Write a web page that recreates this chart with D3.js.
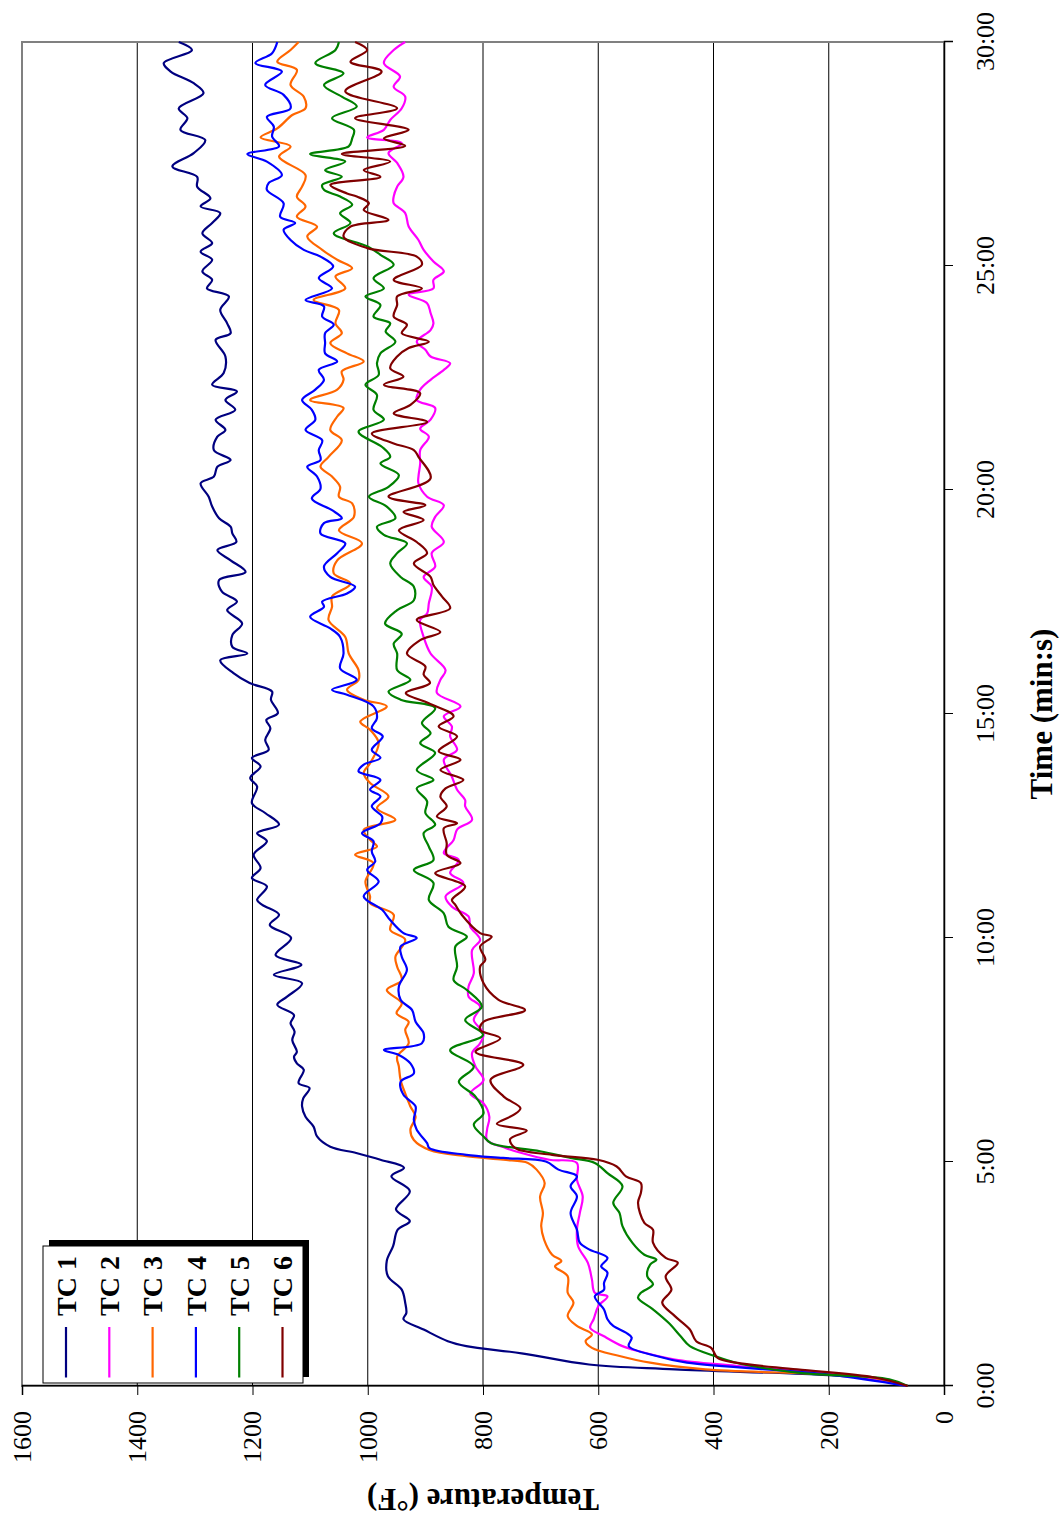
<!DOCTYPE html>
<html>
<head>
<meta charset="utf-8">
<script src="https://cdn.jsdelivr.net/npm/d3@7"></script>
<style>
  body { margin: 0; background: #fff; }
  text { font-family: "Liberation Serif", "Times New Roman", serif; }
</style>
</head>
<body>
<svg id="chart" width="1061" height="1520"></svg>
<script>
// readings taken off the plot: [minutes, deg F]
const seriesNames = ["TC 1", "TC 2", "TC 3", "TC 4", "TC 5", "TC 6"];
const seriesColors = ["#000080", "#ff00ff", "#ff6600", "#0000ff", "#008000", "#800000"];
const timeTicks = [0, 5, 10, 15, 20, 25, 30];
const tempTicks = [0, 200, 400, 600, 800, 1000, 1200, 1400, 1600];
const gridTemps = [200, 400, 600, 800, 1000, 1200, 1400];

const tc1 = [[0,63],[0.19,148],[0.37,467],[0.48,616],[0.73,733],[0.89,829],[1.0,861],[1.26,903],[1.49,938],[1.63,933],[1.86,935],[2.15,941],[2.45,965],[2.79,967],[3.12,956],[3.49,948],[3.68,927],[3.94,951],[4.35,927],[4.68,959],[4.87,937],[5.05,978],[5.2,1020],[5.34,1065],[5.57,1088],[5.79,1094],[6.01,1108],[6.24,1114],[6.42,1112],[6.65,1101],[6.76,1120],[7.06,1111],[7.2,1123],[7.35,1128],[7.46,1123],[7.72,1131],[7.91,1127],[8.1,1134],[8.28,1128],[8.51,1157],[8.69,1140],[8.99,1114],[9.18,1163],[9.4,1115],[9.62,1160],[10.0,1133],[10.29,1170],[10.52,1154],[10.74,1183],[10.85,1192],[11.15,1175],[11.34,1201],[11.56,1186],[11.86,1198],[12.16,1175],[12.34,1192],[12.53,1154],[12.79,1178],[13.01,1201],[13.38,1192],[13.57,1204],[13.83,1186],[14.02,1201],[14.2,1172],[14.42,1178],[14.68,1169],[14.87,1176],[15.02,1156],[15.32,1168],[15.5,1166],[15.69,1205],[15.91,1233],[16.2,1256],[16.35,1209],[16.5,1235],[16.76,1235],[17.02,1218],[17.32,1244],[17.51,1227],[17.73,1253],[17.99,1258],[18.17,1212],[18.43,1238],[18.66,1261],[18.84,1228],[19.03,1235],[19.18,1238],[19.37,1258],[19.63,1270],[19.85,1276],[20.15,1290],[20.3,1267],[20.52,1261],[20.67,1238],[20.89,1267],[21.19,1261],[21.34,1247],[21.57,1264],[21.79,1230],[22.01,1247],[22.2,1227],[22.35,1270],[22.61,1250],[22.98,1247],[23.35,1264],[23.5,1238],[23.72,1244],[24.02,1256],[24.32,1241],[24.5,1279],[24.69,1270],[24.88,1287],[25.14,1270],[25.32,1290],[25.51,1270],[25.73,1287],[25.96,1270],[26.18,1256],[26.33,1290],[26.51,1273],[26.77,1296],[26.99,1296],[27.22,1339],[27.52,1302],[27.81,1282],[28.04,1325],[28.3,1313],[28.52,1328],[28.86,1285],[29.08,1302],[29.34,1342],[29.53,1354],[29.82,1305],[30.0,1328]];

const tc2 = [[0,63],[0.22,148],[0.45,361],[0.59,467],[0.78,531],[0.89,558],[1.11,590],[1.3,614],[1.49,608],[1.78,600],[2.0,584],[2.08,606],[2.38,611],[2.75,618],[3.12,635],[3.49,637],[3.86,632],[4.23,627],[4.6,637],[4.98,637],[5.05,685],[5.2,733],[5.31,760],[5.49,793],[5.72,793],[6.01,789],[6.31,799],[6.53,822],[6.83,799],[7.13,813],[7.43,819],[7.65,805],[7.87,799],[8.17,816],[8.47,805],[8.69,825],[8.92,825],[9.21,816],[9.73,819],[9.96,805],[10.25,822],[10.48,825],[10.7,854],[10.93,865],[11.23,834],[11.45,857],[11.74,842],[11.9,868],[12.19,851],[12.42,845],[12.64,819],[12.94,831],[13.08,831],[13.31,845],[13.6,854],[13.98,868],[14.2,845],[14.5,857],[14.72,854],[14.95,868],[15.17,839],[15.47,880],[15.76,874],[15.98,865],[16.35,891],[16.72,903],[17.1,909],[17.24,897],[17.47,894],[17.84,889],[18.06,903],[18.29,883],[18.59,889],[18.84,868],[19.18,889],[19.4,883],[19.66,868],[19.85,897],[20.15,912],[20.3,912],[20.59,909],[20.89,909],[21.19,894],[21.37,909],[21.57,891],[21.83,883],[22.01,915],[22.24,909],[22.46,891],[22.68,868],[22.83,857],[22.98,891],[23.13,900],[23.31,915],[23.57,891],[23.72,886],[23.95,891],[24.17,897],[24.36,929],[24.5,886],[24.69,886],[24.88,868],[25.1,886],[25.36,903],[25.58,912],[25.88,929],[26.18,935],[26.4,955],[26.55,955],[26.77,949],[26.99,938],[27.3,949],[27.52,964],[27.74,941],[27.87,1001],[28.04,972],[28.26,961],[28.52,941],[28.78,935],[29.0,955],[29.23,944],[29.53,972],[29.82,955],[30.0,935]];

const tc3 = [[0,63],[0.19,127],[0.37,414],[0.52,510],[0.67,563],[0.85,611],[1.0,622],[1.15,611],[1.34,637],[1.56,653],[1.86,643],[2.08,653],[2.45,653],[2.67,675],[2.79,664],[2.93,680],[3.27,694],[3.57,699],[3.86,696],[4.23,701],[4.53,693],[4.83,707],[4.98,722],[5.05,765],[5.13,829],[5.27,893],[5.49,920],[5.72,926],[6.01,917],[6.24,926],[6.53,935],[6.83,943],[7.13,946],[7.35,949],[7.65,929],[7.95,935],[8.13,929],[8.32,950],[8.54,941],[8.84,967],[9.06,941],[9.36,949],[9.58,952],[9.96,935],[10.18,961],[10.52,955],[10.78,996],[10.93,996],[11.26,1004],[11.67,990],[11.86,1022],[12.04,984],[12.19,996],[12.42,1007],[12.64,952],[12.9,984],[13.16,964],[13.46,996],[13.68,1007],[13.9,996],[14.35,981],[14.65,996],[14.83,1013],[15.17,967],[15.32,1007],[15.54,1036],[15.76,1016],[15.98,1016],[16.35,1033],[16.72,1039],[17.1,1068],[17.39,1062],[17.62,1062],[17.91,1030],[18.14,1059],[18.43,1053],[18.81,1010],[19.1,1050],[19.4,1024],[19.7,1027],[19.85,1050],[20.07,1048],[20.3,1062],[20.52,1082],[20.74,1068],[21.11,1045],[21.34,1065],[21.64,1053],[21.83,1042],[22.01,1100],[22.24,1053],[22.46,1042],[22.65,1045],[22.87,1007],[23.05,1036],[23.28,1065],[23.5,1045],[23.72,1056],[24.02,1050],[24.24,1094],[24.5,1039],[24.77,1056],[24.95,1027],[25.14,1053],[25.36,1079],[25.66,1105],[25.88,1088],[26.1,1123],[26.33,1108],[26.55,1123],[26.77,1114],[27.03,1108],[27.44,1154],[27.67,1134],[27.87,1186],[28.07,1157],[28.37,1131],[28.52,1108],[28.78,1111],[29.04,1134],[29.38,1123],[29.56,1157],[29.82,1134],[30.0,1120]];

const tc4 = [[0,63],[0.26,202],[0.52,446],[0.67,499],[0.89,547],[1.08,542],[1.19,552],[1.34,574],[1.49,584],[1.71,590],[2.0,606],[2.15,590],[2.3,590],[2.53,584],[2.67,595],[2.86,584],[3.05,616],[3.2,632],[3.49,637],[3.86,648],[4.23,637],[4.46,648],[4.68,637],[4.83,669],[5.01,691],[5.09,765],[5.16,829],[5.31,893],[5.42,897],[5.72,915],[5.94,920],[6.24,917],[6.5,938],[6.79,943],[6.98,920],[7.2,926],[7.39,946],[7.5,972],[7.65,906],[7.87,903],[8.13,917],[8.39,923],[8.62,943],[8.92,946],[9.29,932],[9.58,941],[9.81,943],[10.0,915],[10.11,938],[10.4,961],[10.63,975],[10.93,1007],[11.26,981],[11.52,1001],[11.71,987],[11.93,993],[12.16,990],[12.34,1010],[12.56,978],[12.71,975],[12.94,993],[13.16,978],[13.31,996],[13.53,978],[13.72,1016],[13.87,1007],[14.02,978],[14.2,993],[14.5,974],[14.68,993],[14.91,984],[15.17,990],[15.43,1036],[15.54,1062],[15.76,1019],[16.02,1048],[16.35,1042],[16.72,1048],[16.91,1065],[17.17,1100],[17.39,1076],[17.51,1079],[17.69,1036],[17.84,1022],[18.06,1065],[18.29,1076],[18.59,1053],[18.81,1039],[19.03,1082],[19.26,1076],[19.37,1045],[19.55,1062],[19.81,1097],[20.03,1082],[20.3,1088],[20.52,1105],[20.67,1082],[20.89,1085],[21.11,1079],[21.34,1108],[21.57,1091],[21.79,1097],[22.01,1114],[22.24,1091],[22.46,1076],[22.68,1085],[22.87,1053],[23.05,1074],[23.28,1074],[23.5,1074],[23.69,1059],[23.87,1079],[24.1,1076],[24.24,1108],[24.5,1062],[24.73,1085],[24.99,1060],[25.21,1082],[25.36,1111],[25.58,1134],[25.81,1146],[25.96,1126],[26.1,1152],[26.4,1146],[26.7,1175],[26.85,1172],[27.03,1149],[27.33,1175],[27.5,1209],[27.67,1154],[27.89,1166],[28.11,1163],[28.33,1175],[28.52,1134],[28.82,1146],[29.04,1178],[29.34,1149],[29.53,1195],[29.75,1166],[30.0,1157]];

const tc5 = [[0,63],[0.15,95],[0.3,255],[0.52,361],[0.67,398],[0.89,441],[1.11,457],[1.41,478],[1.71,505],[1.97,531],[2.08,526],[2.27,505],[2.45,515],[2.71,510],[2.82,499],[2.93,520],[3.2,541],[3.57,558],[3.86,563],[4.09,574],[4.46,558],[4.75,584],[4.98,606],[5.09,648],[5.24,701],[5.42,786],[5.57,799],[5.83,816],[6.09,799],[6.46,813],[6.79,842],[7.13,816],[7.5,857],[7.84,800],[8.17,831],[8.47,802],[8.84,828],[9.06,851],[9.36,845],[9.81,848],[10.03,828],[10.25,860],[10.55,868],[10.85,894],[11.23,886],[11.52,920],[11.74,886],[12.04,894],[12.34,903],[12.53,883],[12.79,900],[13.05,897],[13.34,915],[13.53,886],[13.75,915],[14.13,883],[14.35,909],[14.57,891],[14.8,906],[15.13,883],[15.32,943],[15.5,964],[15.76,926],[15.98,949],[16.35,949],[16.57,955],[16.79,941],[17.02,970],[17.32,949],[17.54,920],[17.84,920],[18.06,943],[18.36,961],[18.59,949],[18.81,932],[19.0,972],[19.18,984],[19.37,952],[19.63,967],[19.85,998],[20.07,964],[20.33,946],[20.59,978],[20.74,961],[20.96,975],[21.3,1016],[21.57,972],[21.79,990],[22.12,984],[22.35,1004],[22.57,981],[22.83,984],[23.05,978],[23.31,952],[23.54,969],[23.72,961],[23.87,990],[24.13,978],[24.32,1004],[24.5,972],[24.73,990],[25.03,955],[25.25,978],[25.44,1001],[25.73,1059],[25.96,1030],[26.18,1048],[26.37,1027],[26.55,1048],[26.7,1076],[26.81,1079],[26.99,1045],[27.14,1074],[27.33,1039],[27.5,1100],[27.67,1033],[27.85,1027],[28.04,1024],[28.3,1062],[28.56,1019],[28.78,1045],[29.04,1076],[29.3,1042],[29.53,1091],[29.82,1056],[30.0,1050]];

const tc6 = [[0,63],[0.19,120],[0.37,255],[0.52,361],[0.63,393],[0.85,404],[1.0,430],[1.26,441],[1.56,467],[1.86,489],[2.15,473],[2.45,483],[2.75,462],[2.86,483],[3.2,505],[3.49,505],[3.64,520],[4.09,531],[4.31,526],[4.53,526],[4.68,552],[4.9,568],[5.05,601],[5.16,680],[5.31,744],[5.51,753],[5.7,724],[5.85,776],[6.05,747],[6.2,735],[6.46,764],[6.83,787],[7.17,730],[7.46,813],[7.76,770],[7.95,805],[8.13,799],[8.39,727],[8.62,773],[8.99,799],[9.36,805],[9.51,796],[9.81,805],[10.03,785],[10.11,805],[10.52,837],[10.74,848],[10.85,854],[11.15,831],[11.45,883],[11.67,839],[11.86,863],[12.12,863],[12.45,868],[12.56,845],[12.71,880],[12.94,863],[13.16,874],[13.34,865],[13.53,834],[13.75,874],[13.98,839],[14.17,877],[14.5,845],[14.72,877],[14.95,851],[15.24,894],[15.47,934],[15.69,892],[15.88,903],[16.06,900],[16.35,932],[16.65,909],[16.83,874],[17.1,915],[17.36,857],[17.62,871],[17.88,886],[18.06,891],[18.36,920],[18.59,897],[18.84,915],[19.1,946],[19.33,903],[19.51,938],[19.66,900],[19.85,964],[20.26,891],[20.74,912],[20.89,920],[21.04,955],[21.26,993],[21.52,897],[21.71,955],[21.9,926],[22.16,909],[22.35,972],[22.53,938],[22.72,961],[22.98,949],[23.17,929],[23.31,894],[23.5,941],[23.69,932],[23.87,955],[24.13,949],[24.32,949],[24.5,906],[24.69,955],[25.03,906],[25.21,915],[25.4,1001],[25.66,1042],[25.88,1030],[26.03,964],[26.25,1007],[26.4,998],[26.55,1019],[26.62,1036],[26.81,1065],[26.99,978],[27.14,1007],[27.33,961],[27.5,1045],[27.68,935],[27.85,972],[28.04,929],[28.3,1022],[28.52,949],[28.9,1039],[29.34,976],[29.56,1030],[29.82,1001],[30.0,1022]];

const seriesData = [tc1, tc2, tc3, tc4, tc5, tc6];

// The chart is built as a normal time / temperature plot on a 1520 x 1061 canvas
// and then turned a quarter turn counter-clockwise onto the 1061 x 1520 page.
const W = 1520, H = 1061;
const margin = { top: 22, right: 42, bottom: 117, left: 134 };
const innerWidth = W - margin.left - margin.right;
const innerHeight = H - margin.top - margin.bottom;

const svg = d3.select("#chart");
const root = svg.append("g").attr("transform", `translate(0,${W}) rotate(-90)`);
const g = root.append("g").attr("transform", `translate(${margin.left},${margin.top})`);

const xScale = d3.scaleLinear().domain([0, 30]).range([0, innerWidth]);
const yScale = d3.scaleLinear().domain([0, 1600]).range([innerHeight, 0]);

// grid
g.selectAll(".grid")
  .data(gridTemps)
  .enter().append("line")
  .attr("class", "grid")
  .attr("x1", 0).attr("x2", innerWidth)
  .attr("y1", d => yScale(d)).attr("y2", d => yScale(d))
  .attr("stroke", "#000")
  .attr("stroke-width", 1);

// plot area border
g.append("rect")
  .attr("width", innerWidth).attr("height", innerHeight)
  .attr("fill", "none")
  .attr("stroke", "#808080")
  .attr("stroke-width", 2);

// axes
const xAxis = d3.axisBottom(xScale)
  .tickValues(timeTicks)
  .tickFormat(d => `${d}:00`)
  .tickSize(9).tickPadding(23);
const yAxis = d3.axisLeft(yScale)
  .tickValues(tempTicks)
  .tickFormat(d3.format("d"))
  .tickSize(9).tickPadding(16);

const xAxisGroup = g.append("g").attr("transform", `translate(0,${innerHeight})`).call(xAxis);
const yAxisGroup = g.append("g").call(yAxis);

[xAxisGroup, yAxisGroup].forEach(ax => {
  ax.select(".domain").attr("stroke", "#000").attr("stroke-width", 1.5);
  ax.selectAll(".tick line").attr("stroke", "#000").attr("stroke-width", 1);
  ax.selectAll(".tick text")
    .attr("fill", "#000")
    .style("font-family", '"Liberation Serif", "Times New Roman", serif')
    .style("font-size", "26px");
});

// axis titles
g.append("text")
  .attr("x", innerWidth / 2)
  .attr("y", 1052 - margin.top)
  .attr("text-anchor", "middle")
  .style("font-size", "31px")
  .style("font-weight", "bold")
  .text("Time (min:s)");

g.append("text")
  .attr("transform", `translate(${31 - margin.left},${innerHeight / 2}) rotate(-90)`)
  .attr("text-anchor", "middle")
  .style("font-size", "31px")
  .style("font-weight", "bold")
  .text("Temperature (°F)");

// series
const line = d3.line()
  .x(d => xScale(d[0]))
  .y(d => yScale(d[1]))
  .curve(d3.curveCatmullRom.alpha(0.5));

g.selectAll(".series")
  .data(seriesData)
  .enter().append("path")
  .attr("class", "series")
  .attr("fill", "none")
  .attr("stroke", (d, i) => seriesColors[i])
  .attr("stroke-width", 2.2)
  .attr("stroke-linejoin", "round")
  .attr("d", line);

// legend (with drop shadow)
const legend = root.append("g").attr("transform", "translate(137,43)");
const legendW = 137, legendH = 260, rowStep = 43.3;

legend.append("rect")
  .attr("x", 6).attr("y", 6)
  .attr("width", legendW).attr("height", legendH)
  .attr("fill", "#000");
legend.append("rect")
  .attr("width", legendW).attr("height", legendH)
  .attr("fill", "#fff")
  .attr("stroke", "#000")
  .attr("stroke-width", 1);

const rows = legend.selectAll(".row")
  .data(seriesNames)
  .enter().append("g")
  .attr("class", "row")
  .attr("transform", (d, i) => `translate(0,${23 + i * rowStep})`);

rows.append("line")
  .attr("x1", 5.5).attr("x2", 56)
  .attr("stroke", (d, i) => seriesColors[i])
  .attr("stroke-width", 2.2);

rows.append("text")
  .attr("x", 67)
  .attr("dy", "0.35em")
  .style("font-size", "28px")
  .style("font-weight", "bold")
  .text(d => d);
</script>
</body>
</html>
